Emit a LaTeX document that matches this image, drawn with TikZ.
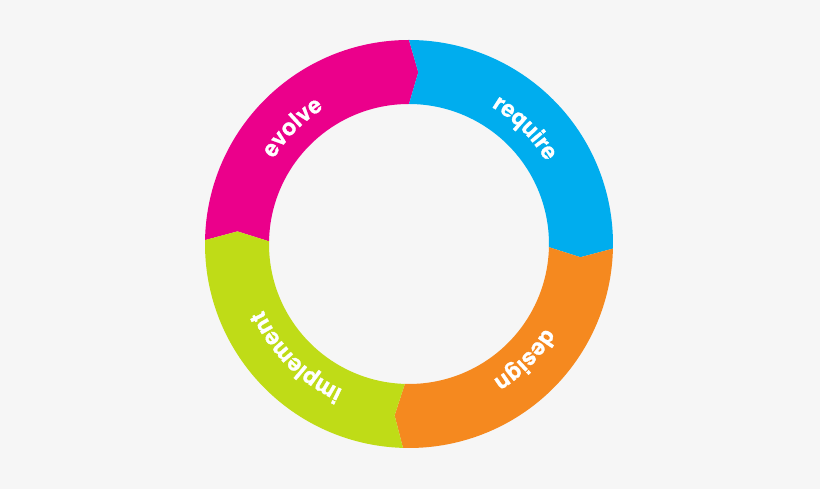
\documentclass[tikz,border=0pt]{standalone}
\usepackage{fontspec}
\usepackage{tikz}
\usetikzlibrary{decorations.text}
\newfontfamily\lblsans{TeX Gyre Heros}[FakeBold=1.2]
\newcommand{\lblfont}{\lblsans\bfseries\fontsize{23}{23}\selectfont}
\definecolor{bgcol}{HTML}{F6F6F6}
\definecolor{evolvecol}{HTML}{EB008B}
\definecolor{requirecol}{HTML}{00ADEE}
\definecolor{designcol}{HTML}{F5891F}
\definecolor{implcol}{HTML}{BFDC17}
\begin{document}
\begin{tikzpicture}[x=1pt,y=1pt,
	lbl/.style={postaction={decorate},decoration={text along path,
		text align=center,text color=white,text={|\lblfont|#1}}}]
	\fill[bgcol] (-409,-245) rectangle (411,244);
	\useasboundingbox (-409,-245) rectangle (411,244);
	% segments, clockwise
	\fill[evolvecol] (178.9:204) arc[start angle=178.9,end angle=90,radius=204]
		-- (86.9:172) -- (90:140) arc[start angle=90,end angle=178.9,radius=140]
		-- (175.8:172) -- cycle;
	\fill[requirecol] (90:204) arc[start angle=90,end angle=-1.3,radius=204]
		-- (-4.4:172) -- (-1.3:140) arc[start angle=-1.3,end angle=90,radius=140]
		-- (86.9:172) -- cycle;
	\fill[designcol] (-1.3:204) arc[start angle=-1.3,end angle=-91.7,radius=204]
		-- (-94.8:172) -- (-91.7:140) arc[start angle=-91.7,end angle=-1.3,radius=140]
		-- (-4.4:172) -- cycle;
	\fill[implcol] (-91.7:204) arc[start angle=-91.7,end angle=-181.1,radius=204]
		-- (-184.2:172) -- (-181.1:140) arc[start angle=-181.1,end angle=-91.7,radius=140]
		-- (-94.8:172) -- cycle;
	% labels
	\path[lbl=evolve] (170:160) arc[start angle=170,end angle=100,radius=160];
	\path[lbl=require] (80:160) arc[start angle=80,end angle=10,radius=160];
	\path[lbl=design] (-10:160) arc[start angle=-10,end angle=-80,radius=160];
	\path[lbl=implement] (-100:160) arc[start angle=-100,end angle=-170,radius=160];
\end{tikzpicture}
\end{document}
